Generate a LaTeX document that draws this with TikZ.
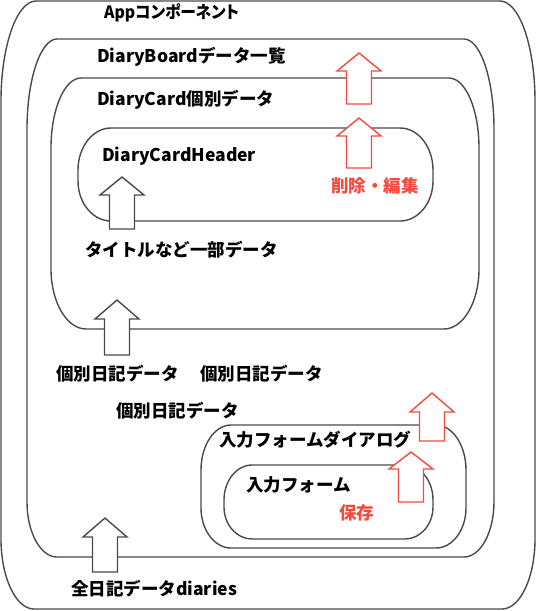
\documentclass[tikz,border=0pt]{standalone}
\usepackage{fontspec}
\setmainfont{Noto Sans CJK JP}
\definecolor{linegray}{RGB}{74,74,74}
\definecolor{accred}{RGB}{245,75,60}
\newcommand\cshape[9]{%
\draw[box] ({#1},{#2+#6}) .. controls ({#1},{#2+0.45*#6}) and ({#1+0.45*#5},{#2}) .. ({#1+#5},{#2})
 -- ({#3-#5},{#2}) .. controls ({#3-0.45*#5},{#2}) and ({#3},{#2+0.45*#6}) .. ({#3},{#2+#6})
 -- ({#3},{#4-#8}) .. controls ({#3},{#4-0.45*#8}) and ({#3-0.45*#7},{#4}) .. ({#3-#7},{#4})
 -- ({#1+#7},{#4}) .. controls ({#1+0.45*#7},{#4}) and ({#1},{#4-0.45*#8}) .. ({#1},{#4-#8}) -- cycle;
\coordinate (#9) at ({(#1+#3)/2},{(#2+#4)/2});}
\newcommand\uparr[5]{%
\draw[#1, fill=white, line width=1.4pt, line join=miter] ({#2},{#3}) -- ({#2+22},{#4}) -- ({#2+12.5},{#4}) -- ({#2+12.5},{#5}) -- ({#2-12.5},{#5}) -- ({#2-12.5},{#4}) -- ({#2-22},{#4}) -- cycle;}
\begin{document}
\begin{tikzpicture}[x=1pt,y=-1pt,
  box/.style={draw=linegray, line width=1.4pt},
  lbl/.style={anchor=west, inner sep=0pt, font=\fontsize{17.5}{19}\selectfont\bfseries, text=black},
  rlbl/.style={lbl, text=accred},
  grayarr/.style={draw=linegray},
  redarr/.style={draw=accred}]
\useasboundingbox (0,0) rectangle (539,611);
% containers
\cshape{1}{1}{535}{609}{35}{100}{33}{70}{app}
\cshape{27}{39}{494}{557}{30}{90}{30}{55}{board}
\cshape{51}{78}{479}{329}{30}{70}{35}{60}{card}
\cshape{78}{128}{433}{221}{33}{42}{33}{40}{header}
\cshape{201}{425}{466}{548}{30}{45}{30}{40}{dialog}
\cshape{224}{465}{433}{539}{28}{35}{28}{32}{form}
% arrows
\uparr{redarr}{359}{53}{71}{104}
\uparr{redarr}{359}{118}{136}{168}
\uparr{grayarr}{122}{177}{195}{229}
\uparr{grayarr}{117}{300}{319}{355}
\uparr{redarr}{432}{393}{412}{441}
\uparr{redarr}{411}{452}{469}{502}
\uparr{grayarr}{105}{518}{537}{572}
% labels
\node[lbl] (tapp) at (104,13) {\scalebox{0.9}[0.97]{\addfontfeatures{RawFeature=+palt}Appコンポーネント}};
\node[lbl] (tboard) at (97,57) {DiaryBoardデータ一覧};
\node[lbl] (tcard) at (97,100) {DiaryCard個別データ};
\node[lbl] (theader) at (102,156) {DiaryCardHeader};
\node[rlbl] (tdel) at (331,186) {削除・編集};
\node[lbl] (ttitle) at (85,250) {タイトルなど一部データ};
\node[lbl] (tind1) at (56,374) {個別日記データ};
\node[lbl] (tind1b) at (200,374) {個別日記データ};
\node[lbl] (tind2) at (116,411) {個別日記データ};
\node[lbl] (tdialog) at (219,440) {入力フォームダイアログ};
\node[lbl] (tform) at (246,485) {入力フォーム};
\node[rlbl] (tsave) at (339,513) {保存};
\node[lbl] (tall) at (71,589) {全日記データdiaries};
\end{tikzpicture}
\end{document}
